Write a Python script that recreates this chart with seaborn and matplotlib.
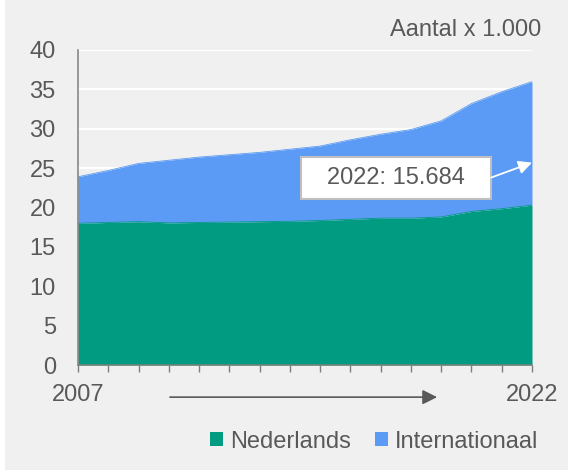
import numpy as np
import pandas as pd
import matplotlib.pyplot as plt
import seaborn as sns
from matplotlib.patches import Rectangle


# Data (x 1.000)
years = list(range(2007, 2023))
nederlands = [18.0, 18.1, 18.2, 18.05, 18.1, 18.15, 18.2, 18.25,
              18.35, 18.5, 18.65, 18.65, 18.8, 19.5, 19.85, 20.3]
internationaal = [5.9, 6.6, 7.4, 7.95, 8.3, 8.55, 8.8, 9.15,
                  9.45, 10.1, 10.65, 11.25, 12.2, 13.7, 14.85, 15.684]
series = ["Nederlands", "Internationaal"]
colors = ["#009B80", "#5B9BF5"]
label_text = "2022: 15.684"
unit_text = "Aantal x 1.000"

df = pd.DataFrame({"jaar": years, "Nederlands": nederlands, "Internationaal": internationaal})
df["totaal"] = df["Nederlands"] + df["Internationaal"]

# Style
sns.set_theme(style="white")
plt.rcParams["font.family"] = ["Liberation Sans", "DejaVu Sans"]
grey_txt = "#595959"
bg = "#F0F0F0"

fig = plt.figure(figsize=(5.68, 4.72), dpi=100, facecolor="white")
fig.patches.append(Rectangle((5 / 568, 2 / 472), 1, 1, transform=fig.transFigure,
                             facecolor=bg, edgecolor="none", zorder=-10))
ax = fig.add_axes([78 / 568, 1 - 365 / 472, 454 / 568, 315 / 472])
ax.set_facecolor(bg)

# Stacked areas
ax.fill_between(df["jaar"], 0, df["Nederlands"], color=colors[0], lw=0, zorder=2)
ax.fill_between(df["jaar"], df["Nederlands"], df["totaal"], color=colors[1], lw=0, zorder=2)
sns.lineplot(x="jaar", y="Nederlands", data=df, ax=ax, color=colors[0], lw=0.6, zorder=3)
sns.lineplot(x="jaar", y="totaal", data=df, ax=ax, color=colors[1], lw=0.6, zorder=3)

# Axes
ax.set_xlim(years[0], years[-1])
ax.set_ylim(0, 40)
ax.set_yticks(np.arange(0, 41, 5))
ax.set_xticks(years)
ax.set_xticklabels([str(y) if y in (years[0], years[-1]) else "" for y in years])
ax.set_xlabel("")
ax.set_ylabel("")
ax.set_axisbelow(True)
ax.grid(axis="y", color="white", lw=1.6)
ax.grid(axis="x", visible=False)

sns.despine(ax=ax, top=True, right=True)
for side in ["left", "bottom"]:
    ax.spines[side].set_color("#7F7F7F")
    ax.spines[side].set_linewidth(1.1)
    ax.spines[side].set_zorder(4)

ax.tick_params(axis="y", length=0, pad=16, labelsize=17, labelcolor=grey_txt)
ax.tick_params(axis="x", direction="out", length=5, width=1, color="#7F7F7F",
               pad=9, labelsize=17, labelcolor=grey_txt, bottom=True)

# Time arrow under axis
ax.annotate("", xy=(0.791, -0.102), xytext=(0.2026, -0.102), xycoords="axes fraction",
            arrowprops=dict(arrowstyle="-|>", color=grey_txt, lw=1.2, mutation_scale=22,
                            shrinkA=0, shrinkB=0), annotation_clip=False)

# Annotation box for 2022
ax.add_patch(Rectangle((0.491, 0.527), 0.4187, 0.133, transform=ax.transAxes,
                       facecolor="white", edgecolor="#BFBFBF", lw=1.5, zorder=5))
ax.text(0.7005, 0.5935, label_text, transform=ax.transAxes, ha="center", va="center",
        fontsize=17, color=grey_txt, zorder=6)
ax.annotate("", xy=(years[-1], 25.7), xytext=(2020.65, 23.8), xycoords="data",
            arrowprops=dict(arrowstyle="-|>", color="white", lw=1.3, mutation_scale=20,
                            shrinkA=0, shrinkB=0), annotation_clip=False, zorder=6)

# Unit label
fig.text(541.7 / 568, 1 - 30 / 472, unit_text, ha="right", va="center",
         fontsize=17, color=grey_txt)

# Legend
handles = [Rectangle((0, 0), 1, 1, facecolor=c, edgecolor="none") for c in colors]
fig.legend(handles, series, loc="center", bbox_to_anchor=(374 / 568, 1 - 441.7 / 472),
           ncol=2, frameon=False, fontsize=17, labelcolor=grey_txt,
           handlelength=0.55, handleheight=0.55, handletextpad=0.3,
           columnspacing=1.0, borderpad=0, borderaxespad=0)

fig.savefig("out.png", dpi=100, facecolor=fig.get_facecolor())
